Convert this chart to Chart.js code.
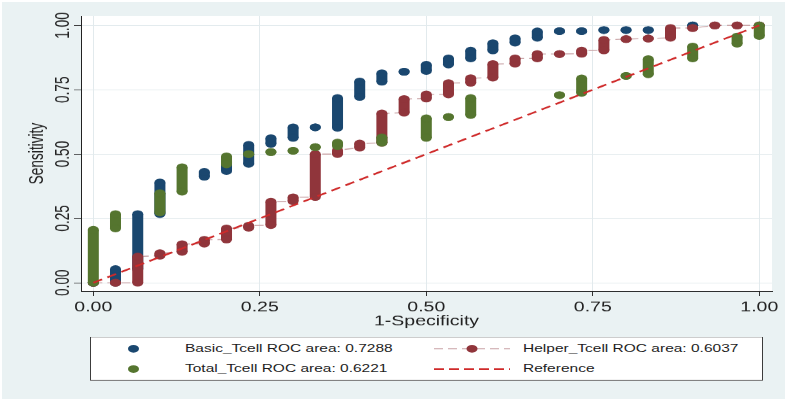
<!DOCTYPE html>
<html>
<head>
<meta charset="utf-8">
<script src="https://cdn.jsdelivr.net/npm/chart.js@4.4.1/dist/chart.umd.min.js"></script>
<style>
  html, body { margin: 0; padding: 0; background: #fff; overflow: hidden; }
  /* the source graph is squashed vertically, so draw tall and scale down */
  #wrap { position: absolute; left: 0; top: 0; width: 795px; height: 576px;
          transform: scaleY(0.6997); transform-origin: 0 0; }
  #roc { position: absolute; left: 0; top: 0; }
  .legend { position: absolute; left: 90px; top: 481px; width: 671px; height: 61px;
            background: #fff; border: 1px solid #3c3c3c; border-top-width: 1.5px; border-bottom-width: 1.5px;
            font-family: "Liberation Sans", Arial, sans-serif; font-size: 15.5px; color: #1e1e1e; }
  .item { position: absolute; height: 20px; line-height: 20px; white-space: nowrap; }
  .dot { position: absolute; width: 11px; height: 11px; border-radius: 50%; }
  .sample { position: absolute; }
</style>
</head>
<body>
<div id="wrap">
  <canvas id="roc" width="795" height="576"></canvas>
  <div class="legend">
    <div class="dot" style="left:37px;top:11px;background:#1a476f"></div>
    <div class="item" style="left:94px;top:6px">Basic_Tcell ROC area: 0.7288</div>
    <svg class="sample" style="left:343px;top:10px" width="76" height="13">
      <line x1="0" y1="6.5" x2="76" y2="6.5" stroke="#c9a3a6" stroke-width="1.4" stroke-dasharray="9 5"/>
      <circle cx="38" cy="6.5" r="5.5" fill="#90353b"/>
    </svg>
    <div class="item" style="left:432px;top:6px">Helper_Tcell ROC area: 0.6037</div>
    <div class="dot" style="left:37px;top:40px;background:#55752f"></div>
    <div class="item" style="left:94px;top:35px">Total_Tcell ROC area: 0.6221</div>
    <svg class="sample" style="left:343px;top:39px" width="76" height="13">
      <line x1="0" y1="6.5" x2="76" y2="6.5" stroke="#cf2a2a" stroke-width="2.6" stroke-dasharray="10 5"/>
    </svg>
    <div class="item" style="left:432px;top:35px">Reference</div>
  </div>
</div>
<script>
// false positive rate columns and sensitivity spans (low/high end of each stack of points)
const basicX  = [0, 0.0333, 0.0667, 0.1, 0.1667, 0.2, 0.2333, 0.2667, 0.3, 0.3333, 0.3667, 0.4, 0.4333, 0.4667, 0.5, 0.5333, 0.5667, 0.6, 0.6333, 0.6667, 0.7, 0.7333, 0.7667, 0.8, 0.8333, 0.9];
const basicLo = [0, 0, 0.053, 0.267, 0.412, 0.434, 0.462, 0.540, 0.563, 0.604, 0.602, 0.722, 0.781, 0.820, 0.823, 0.848, 0.872, 0.903, 0.933, 0.952, 0.978, 0.978, 0.982, 0.982, 0.982, 1.0];
const basicHi = [0, 0.053, 0.267, 0.390, 0.431, 0.470, 0.536, 0.562, 0.604, 0.604, 0.718, 0.782, 0.814, 0.820, 0.847, 0.872, 0.902, 0.931, 0.950, 0.977, 0.978, 0.978, 0.982, 0.982, 0.982, 1.0];

const helperX  = [0, 0.0333, 0.0667, 0.1, 0.1333, 0.1667, 0.2, 0.2333, 0.2667, 0.3, 0.3333, 0.3667, 0.4, 0.4333, 0.4667, 0.5, 0.5333, 0.5667, 0.6, 0.6333, 0.6667, 0.7, 0.7333, 0.7667, 0.8, 0.8333, 0.8667, 0.9, 0.9333, 0.9667, 1];
const helperLo = [0, 0, 0, 0.105, 0.120, 0.152, 0.168, 0.214, 0.224, 0.317, 0.333, 0.500, 0.525, 0.544, 0.661, 0.716, 0.732, 0.777, 0.797, 0.851, 0.872, 0.889, 0.890, 0.903, 0.947, 0.949, 0.952, 0.990, 1.0, 1.0, 1.0];
const helperHi = [0, 0, 0.102, 0.115, 0.150, 0.167, 0.211, 0.222, 0.315, 0.332, 0.500, 0.515, 0.541, 0.658, 0.714, 0.732, 0.776, 0.795, 0.850, 0.872, 0.889, 0.889, 0.902, 0.944, 0.947, 0.949, 0.990, 0.990, 1.0, 1.0, 1.0];

const totalX  = [0, 0.0333, 0.1, 0.1333, 0.2, 0.2333, 0.2667, 0.3, 0.3333, 0.3667, 0.4333, 0.5, 0.5333, 0.5667, 0.7, 0.7333, 0.8, 0.8333, 0.9, 0.9667, 1];
const totalLo = [0, 0.211, 0.273, 0.354, 0.460, 0.500, 0.508, 0.513, 0.527, 0.531, 0.544, 0.563, 0.644, 0.652, 0.729, 0.738, 0.804, 0.810, 0.872, 0.929, 0.959];
const totalHi = [0.206, 0.267, 0.348, 0.449, 0.491, 0.500, 0.508, 0.513, 0.527, 0.545, 0.565, 0.639, 0.644, 0.718, 0.729, 0.794, 0.804, 0.869, 0.918, 0.957, 1.0];

const refX = [0, 1];
const refY = [0, 1];

const xTicks = [0, 0.25, 0.5, 0.75, 1];
const yTicks = [0, 0.25, 0.5, 0.75, 1];

const BLUE = '#1a476f', MAROON = '#90353b', GREEN = '#55752f', RED = '#cf2a2a';
const FONT = '"Liberation Sans", Arial, sans-serif';

// each column becomes a short vertical segment, broken by a gap
function stacks(xs, lo, hi) {
    const pts = [];
    xs.forEach((x, i) => {
        pts.push({x: x, y: lo[i]}, {x: x, y: hi[i]}, {x: x, y: null});
    });
    return pts;
}

function path(xs, lo, hi) {
    const pts = [];
    xs.forEach((x, i) => {
        pts.push({x: x, y: lo[i]}, {x: x, y: hi[i]});
    });
    return pts;
}

function stackSet(label, xs, lo, hi, color, order) {
    return {
        label: label,
        data: stacks(xs, lo, hi),
        showLine: true,
        spanGaps: false,
        borderColor: color,
        backgroundColor: color,
        borderWidth: 11,
        borderCapStyle: 'butt',
        pointRadius: 5.5,
        pointBorderWidth: 0,
        order: order
    };
}

const background = {
    id: 'background',
    beforeDraw(chart) {
        const {ctx, chartArea: a} = chart;
        ctx.save();
        ctx.fillStyle = '#fff';
        ctx.fillRect(0, 0, chart.width, chart.height);
        ctx.fillStyle = '#eaf2f3';
        ctx.fillRect(2, 3, 783, 567);
        ctx.fillStyle = '#fff';
        ctx.fillRect(a.left, a.top, a.right - a.left, a.bottom - a.top);
        ctx.restore();
    }
};

const ctx = document.getElementById('roc').getContext('2d');
new Chart(ctx, {
    type: 'scatter',
    data: {
        datasets: [
            {
                label: 'Reference',
                data: refX.map((x, i) => ({x: x, y: refY[i]})),
                showLine: true,
                borderColor: RED,
                borderWidth: 2.4,
                borderDash: [10, 6],
                pointRadius: 0,
                order: 0
            },
            stackSet('Total_Tcell ROC area: 0.6221', totalX, totalLo, totalHi, GREEN, 1),
            stackSet('Helper_Tcell ROC area: 0.6037', helperX, helperLo, helperHi, MAROON, 2),
            {
                label: 'Helper line',
                data: path(helperX, helperLo, helperHi),
                showLine: true,
                borderColor: '#c9a3a6',
                borderWidth: 1.4,
                borderDash: [9, 5],
                pointRadius: 0,
                order: 3
            },
            stackSet('Basic_Tcell ROC area: 0.7288', basicX, basicLo, basicHi, BLUE, 4)
        ]
    },
    options: {
        responsive: false,
        animation: false,
        events: [],
        layout: {
            padding: {left: 0, right: 23, top: 23, bottom: 100}
        },
        plugins: {
            legend: {display: false},
            tooltip: {enabled: false}
        },
        scales: {
            x: {
                type: 'linear',
                min: -0.0185,
                max: 1.0191,
                afterBuildTicks: s => { s.ticks = xTicks.map(v => ({value: v})); },
                afterFit: s => { s.height = 60; s.paddingLeft = 0; s.paddingRight = 0; },
                grid: {color: '#e2eaed', lineWidth: 1, tickColor: '#333', tickLength: 7},
                border: {color: '#222', width: 1},
                ticks: {
                    autoSkip: false,
                    maxRotation: 0,
                    padding: 5,
                    color: '#222',
                    font: {family: FONT, size: 19.5},
                    callback: v => v.toFixed(2)
                },
                title: {
                    display: true,
                    text: '1-Specificity',
                    color: '#222',
                    font: {family: FONT, size: 19.5},
                    padding: {top: 0, bottom: 5}
                }
            },
            y: {
                type: 'linear',
                min: -0.0324,
                max: 1.0362,
                afterBuildTicks: s => { s.ticks = yTicks.map(v => ({value: v})); },
                afterFit: s => { s.width = 81; s.paddingTop = 0; s.paddingBottom = 0; },
                grid: {color: '#e2eaed', lineWidth: 1, tickColor: '#333', tickLength: 7},
                border: {color: '#222', width: 1},
                ticks: {
                    autoSkip: false,
                    minRotation: 90,
                    maxRotation: 90,
                    labelOffset: -19,
                    padding: 10.5,
                    color: '#222',
                    font: {family: FONT, size: 19.5},
                    callback: v => v.toFixed(2)
                },
                title: {
                    display: true,
                    text: 'Sensitivity',
                    color: '#222',
                    font: {family: FONT, size: 19.5},
                    padding: {top: 26, bottom: 0}
                }
            }
        }
    },
    plugins: [background]
});
</script>
</body>
</html>
